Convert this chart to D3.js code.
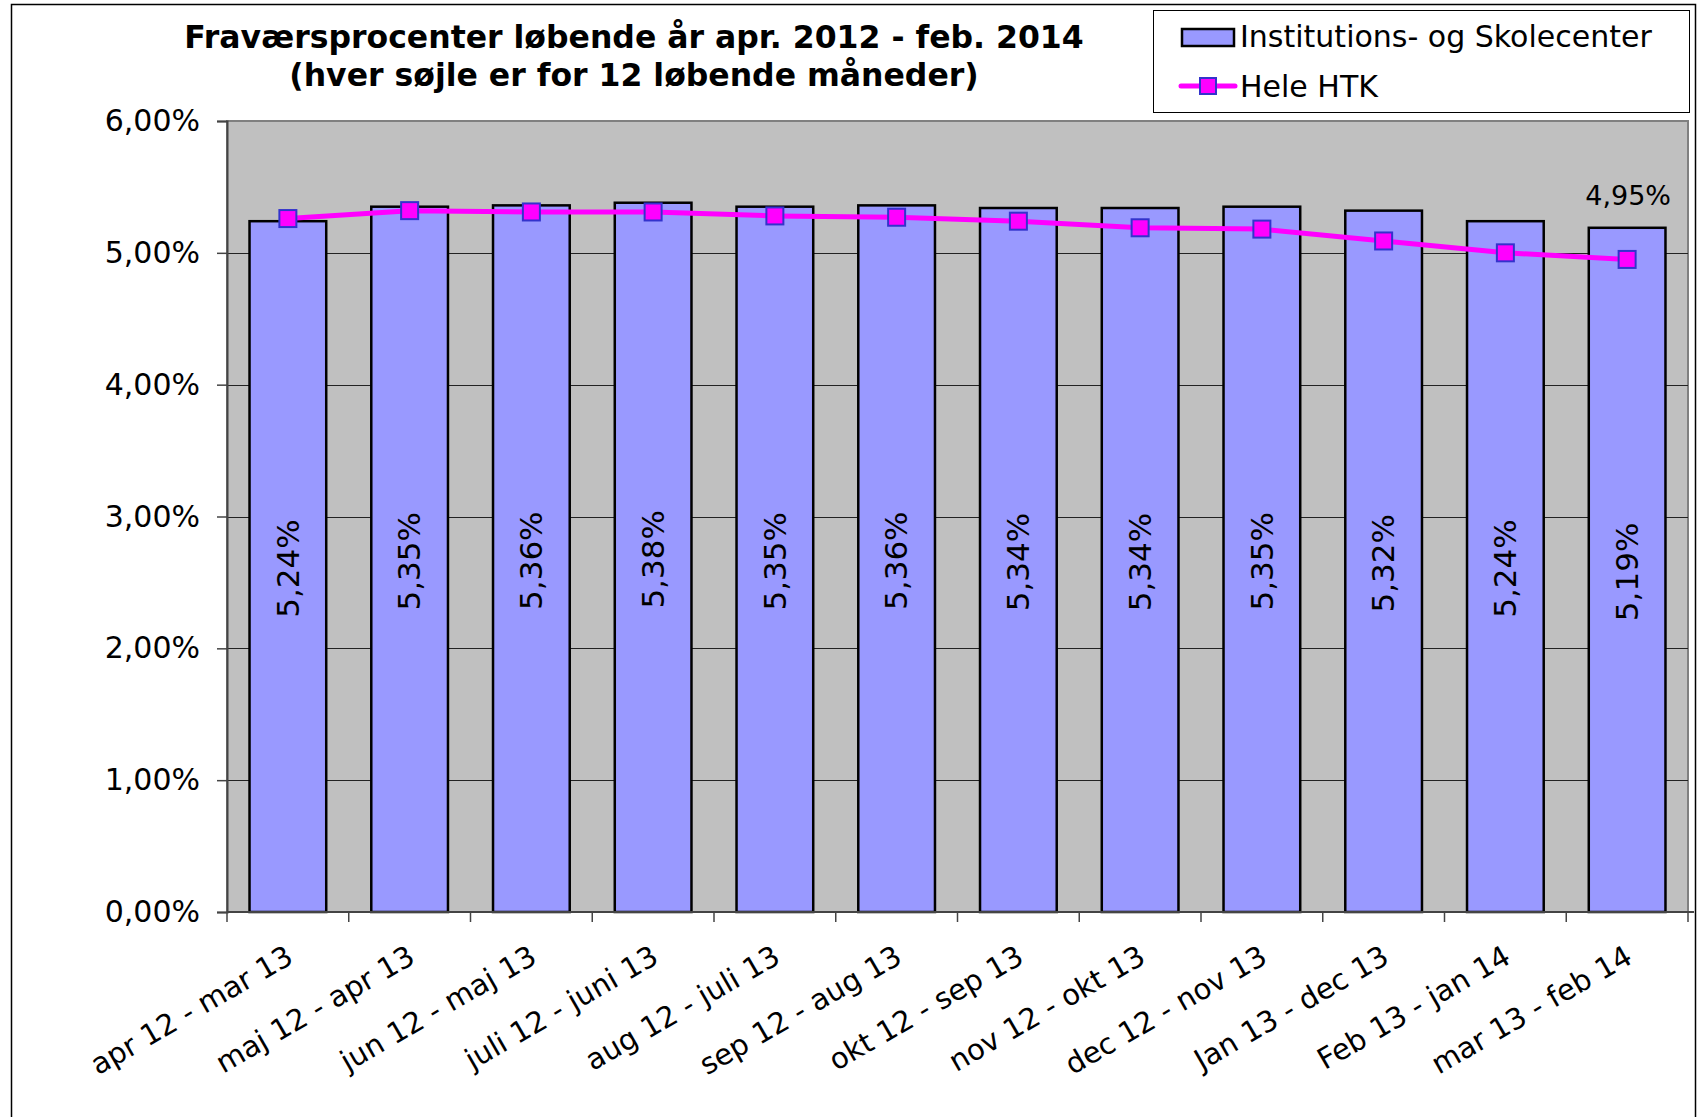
<!DOCTYPE html>
<html>
<head>
<meta charset="utf-8">
<script src="https://cdn.jsdelivr.net/npm/d3@7"></script>
<style>
  html, body { margin: 0; padding: 0; background: #fff; }
  svg { display: block; font-family: "DejaVu Sans", Verdana, sans-serif; }
</style>
</head>
<body>
<script>
(function() {
    'use strict';

    var categories = ['apr 12 - mar 13', 'maj 12 - apr 13', 'jun 12 - maj 13', 'juli 12 - juni 13',
        'aug 12 - juli 13', 'sep 12 - aug 13', 'okt 12 - sep 13', 'nov 12 - okt 13',
        'dec 12 - nov 13', 'Jan 13 - dec 13', 'Feb 13 - jan 14', 'mar 13 - feb 14'];
    var skolecenter = [5.24, 5.35, 5.36, 5.38, 5.35, 5.36, 5.34, 5.34, 5.35, 5.32, 5.24, 5.19];
    var heleHtk = [5.26, 5.32, 5.31, 5.31, 5.28, 5.27, 5.24, 5.19, 5.18, 5.09, 5.00, 4.95];
    var yTicks = [0, 1, 2, 3, 4, 5, 6];
    var seriesNames = ['Institutions- og Skolecenter', 'Hele HTK'];
    var titleLines = ['Fraværsprocenter løbende år apr. 2012 - feb. 2014',
        '(hver søjle er for 12 løbende måneder)'];

    var width = 1703, height = 1117;
    var plot = { left: 227, right: 1688, top: 121, bottom: 912 };

    var fmt = function(v) { return d3.format('.2f')(v).replace('.', ',') + '%'; };

    var svg = d3.select('body').append('svg')
        .attr('width', width)
        .attr('height', height);

    // chart border
    svg.append('rect')
        .attr('x', 11.5).attr('y', 4.5)
        .attr('width', 1684).attr('height', 1140)
        .attr('fill', '#fff')
        .attr('stroke', '#000')
        .attr('stroke-width', 1.5);

    var x = d3.scaleBand()
        .domain(categories)
        .range([plot.left, plot.right])
        .paddingInner(0.37)
        .paddingOuter(0.185);

    var y = d3.scaleLinear()
        .domain([0, 6])
        .range([plot.bottom, plot.top]);

    // plot area
    svg.append('rect')
        .attr('x', plot.left).attr('y', plot.top)
        .attr('width', plot.right - plot.left)
        .attr('height', plot.bottom - plot.top)
        .attr('fill', '#c0c0c0')
        .attr('stroke', '#808080')
        .attr('stroke-width', 2);

    // gridlines
    svg.append('g').selectAll('line')
        .data(yTicks.slice(1, -1))
        .enter().append('line')
        .attr('x1', plot.left).attr('x2', plot.right)
        .attr('y1', function(d) { return Math.round(y(d)) + 0.5; })
        .attr('y2', function(d) { return Math.round(y(d)) + 0.5; })
        .attr('stroke', '#222')
        .attr('stroke-width', 1);

    // y axis
    var yAxis = svg.append('g')
        .attr('transform', 'translate(' + plot.left + ',0)')
        .call(d3.axisLeft(y).tickValues(yTicks).tickSize(10).tickPadding(17).tickFormat(fmt));
    yAxis.select('.domain').attr('stroke', '#444').attr('stroke-width', 2);
    yAxis.selectAll('.tick line').attr('stroke', '#444').attr('stroke-width', 1.5);
    yAxis.selectAll('.tick text')
        .attr('font-size', 30)
        .attr('fill', '#000')
        .attr('font-family', '"DejaVu Sans", Verdana, sans-serif');

    // bars
    svg.append('g').selectAll('rect')
        .data(skolecenter)
        .enter().append('rect')
        .attr('x', function(d, i) { return x(categories[i]); })
        .attr('y', function(d) { return y(d); })
        .attr('width', x.bandwidth())
        .attr('height', function(d) { return y(0) - y(d); })
        .attr('fill', '#9999ff')
        .attr('stroke', '#000')
        .attr('stroke-width', 2.5);

    // bar labels
    svg.append('g').selectAll('text')
        .data(skolecenter)
        .enter().append('text')
        .attr('transform', function(d, i) {
            var cx = x(categories[i]) + x.bandwidth() / 2;
            var cy = (y(0) + y(d)) / 2 + 2;
            return 'translate(' + cx + ',' + cy + ') rotate(-90)';
        })
        .attr('text-anchor', 'middle')
        .attr('dy', '0.35em')
        .attr('font-size', 31)
        .attr('fill', '#000')
        .text(fmt);

    // x axis
    var step = x.step();
    var xAxis = svg.append('g');
    xAxis.append('line')
        .attr('x1', plot.left).attr('x2', plot.right + 6)
        .attr('y1', plot.bottom).attr('y2', plot.bottom)
        .attr('stroke', '#444').attr('stroke-width', 2);
    xAxis.selectAll('line.tick')
        .data(categories.concat(['end']))
        .enter().append('line')
        .attr('class', 'tick')
        .attr('x1', function(d, i) { return plot.left + i * step; })
        .attr('x2', function(d, i) { return plot.left + i * step; })
        .attr('y1', plot.bottom).attr('y2', plot.bottom + 10)
        .attr('stroke', '#444').attr('stroke-width', 1.5);
    xAxis.selectAll('text')
        .data(categories)
        .enter().append('text')
        .attr('transform', function(d) {
            return 'translate(' + (x(d) + x.bandwidth() / 2 + 7) + ',' + (plot.bottom + 50) + ') rotate(-30)';
        })
        .attr('text-anchor', 'end')
        .attr('font-size', 29)
        .attr('fill', '#000')
        .text(function(d) { return d; });

    // line
    var line = d3.line()
        .x(function(d, i) { return x(categories[i]) + x.bandwidth() / 2; })
        .y(function(d) { return y(d); });

    svg.append('path')
        .datum(heleHtk)
        .attr('d', line)
        .attr('fill', 'none')
        .attr('stroke', '#ff00ff')
        .attr('stroke-width', 5);

    var ms = 17;
    svg.append('g').selectAll('rect')
        .data(heleHtk)
        .enter().append('rect')
        .attr('x', function(d, i) { return x(categories[i]) + x.bandwidth() / 2 - ms / 2; })
        .attr('y', function(d) { return y(d) - ms / 2; })
        .attr('width', ms).attr('height', ms)
        .attr('fill', '#ff00ff')
        .attr('stroke', '#3333cc')
        .attr('stroke-width', 2);

    // label for last point
    var last = heleHtk.length - 1;
    svg.append('text')
        .attr('x', x(categories[last]) + x.bandwidth() / 2 + 1)
        .attr('y', y(heleHtk[last]) - 54)
        .attr('text-anchor', 'middle')
        .attr('font-size', 27)
        .attr('fill', '#000')
        .text(fmt(heleHtk[last]));

    // title
    svg.append('g').selectAll('text')
        .data(titleLines)
        .enter().append('text')
        .attr('x', 634)
        .attr('y', function(d, i) { return 48 + i * 38; })
        .attr('text-anchor', 'middle')
        .attr('font-size', 31.5)
        .attr('font-weight', 'bold')
        .attr('fill', '#000')
        .text(function(d) { return d; });

    // legend
    var legend = svg.append('g');
    legend.append('rect')
        .attr('x', 1153.5).attr('y', 10.5)
        .attr('width', 536).attr('height', 102)
        .attr('fill', '#fff')
        .attr('stroke', '#000')
        .attr('stroke-width', 1);
    legend.append('rect')
        .attr('x', 1182).attr('y', 29)
        .attr('width', 52).attr('height', 17)
        .attr('fill', '#9999ff')
        .attr('stroke', '#000')
        .attr('stroke-width', 2.5);
    legend.append('line')
        .attr('x1', 1181).attr('x2', 1235)
        .attr('y1', 86).attr('y2', 86)
        .attr('stroke', '#ff00ff')
        .attr('stroke-width', 5)
        .attr('stroke-linecap', 'round');
    legend.append('rect')
        .attr('x', 1208 - 8).attr('y', 86 - 8)
        .attr('width', 16).attr('height', 16)
        .attr('fill', '#ff00ff')
        .attr('stroke', '#3333cc')
        .attr('stroke-width', 2);
    legend.selectAll('text.item')
        .data(seriesNames)
        .enter().append('text')
        .attr('class', 'item')
        .attr('x', 1240)
        .attr('y', function(d, i) { return 47 + i * 50; })
        .attr('font-size', 30)
        .attr('fill', '#000')
        .text(function(d) { return d; });
}());
</script>
</body>
</html>
